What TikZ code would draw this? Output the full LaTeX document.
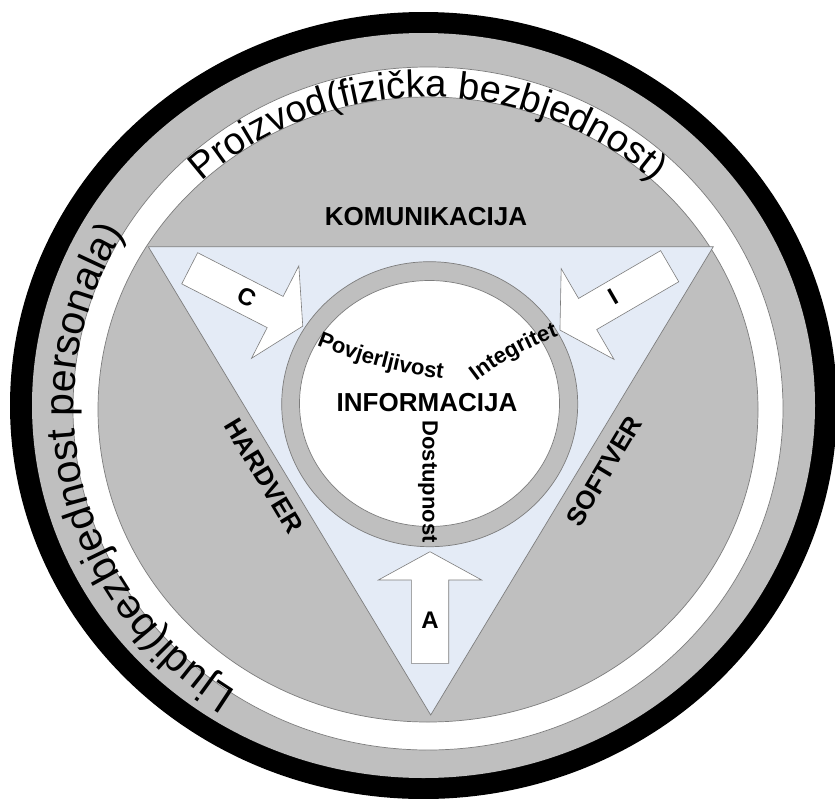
\documentclass[tikz,border=0pt]{standalone}
\usepackage{fontspec}
\setmainfont{Liberation Sans}
\usetikzlibrary{decorations.text}
\definecolor{ringgray}{RGB}{191,191,191}
\definecolor{tribg}{RGB}{228,235,246}
\definecolor{edgegray}{RGB}{125,125,125}
\begin{document}
\begin{tikzpicture}[x=1pt,y=1pt,
  outline/.style={draw=edgegray, line width=0.7pt},
  fatarrow/.style={fill=white, draw=edgegray, line width=0.6pt, line join=miter},
  biglbl/.style={font=\bfseries\fontsize{26}{26}\selectfont, inner sep=0pt},
  midlbl/.style={font=\bfseries\fontsize{22}{22}\selectfont, inner sep=0pt},
  arrlbl/.style={font=\bfseries\fontsize{24}{24}\selectfont, inner sep=0pt}]
\useasboundingbox (0,0) rectangle (835,-798);
\fill[white] (0,0) rectangle (835,-798);
% outer rings
\fill[black] (423.5,-405.5) ellipse [x radius=413.5, y radius=393.5];
\fill[ringgray] (423.5,-405.5) ellipse [x radius=391.5, y radius=372.5];
\path[fill=white, outline] (428,-408.5) ellipse [x radius=355, y radius=341.5];
\path[fill=ringgray, outline] (428,-409.5) ellipse [x radius=330, y radius=312.5];
% triangle
\path[fill=tribg, outline] (148.3,-246.7) -- (713.3,-246.7) -- (430.7,-715) -- cycle;
% inner ring and disc
\path[fill=ringgray, outline] (429.7,-404.2) ellipse [x radius=148, y radius=142.5];
\path[fill=white, outline] (429.5,-403.5) ellipse [x radius=130, y radius=123];
% arrows
\begin{scope}[shift={(189.7,-268.3)}, rotate=-27.1]
  \path[fatarrow] (0,17.5) -- (96,17.5) -- (96,52) -- (127,0) -- (96,-52) -- (96,-17.5) -- (0,-17.5) -- cycle;
\end{scope}
\begin{scope}[shift={(669.7,-266.2)}, rotate=-149.8]
  \path[fatarrow] (0,18) -- (95,18) -- (95,52.5) -- (127,0) -- (95,-52.5) -- (95,-18) -- (0,-18) -- cycle;
\end{scope}
\begin{scope}[shift={(430,-663.3)}, rotate=90]
  \path[fatarrow] (0,18.7) -- (83.3,18.7) -- (83.3,51.7) -- (111.6,0) -- (83.3,-51.7) -- (83.3,-18.7) -- (0,-18.7) -- cycle;
\end{scope}
\node[arrlbl, rotate=-27] (lc) at (246.7,-297.3) {C};
\node[arrlbl, rotate=30] (li) at (613.3,-296.7) {I};
\node[arrlbl] (la) at (430,-620) {A};
% labels
\node[biglbl] (kom) at (426,-217) {KOMUNIKACIJA};
\node[biglbl] (inf) at (427,-402.7) {INFORMACIJA};
\node[biglbl, rotate=-59] (hw) at (264,-476) {HARDVER};
\node[biglbl, rotate=59] (sw) at (604,-471) {SOFTVER};
\node[midlbl, rotate=-90] (dost) at (428,-481.7) {Dostupnost};
\path[decorate, decoration={text along path, text align=center,
  text={|\bfseries\fontsize{22}{22}\selectfont|Povjerljivost}}]
  (308,-342) .. controls (357.7,-363) and (402.3,-374.7) .. (452,-380);
\path[decorate, decoration={text along path, text align=center,
  text={|\bfseries\fontsize{22}{22}\selectfont|Integritet}}]
  (474,-383) .. controls (500.6,-362.4) and (527.8,-347.4) .. (561,-335);
% curved outer texts
\path[decorate, decoration={text along path, text align=center,
  text={|\fontsize{38}{38}\selectfont|Proizvod(fizička bezbjednost)}}]
  (142.2,-253) arc [start angle=150, end angle=30, x radius=330, y radius=312];
\path[decorate, decoration={text along path, text align=center,
  text={|\fontsize{41}{41}\selectfont|Ljudi(bezbjednost personala)}}]
  (323.1,-730.2) arc [start angle=253, end angle=133, x radius=352, y radius=338];
\end{tikzpicture}
\end{document}
